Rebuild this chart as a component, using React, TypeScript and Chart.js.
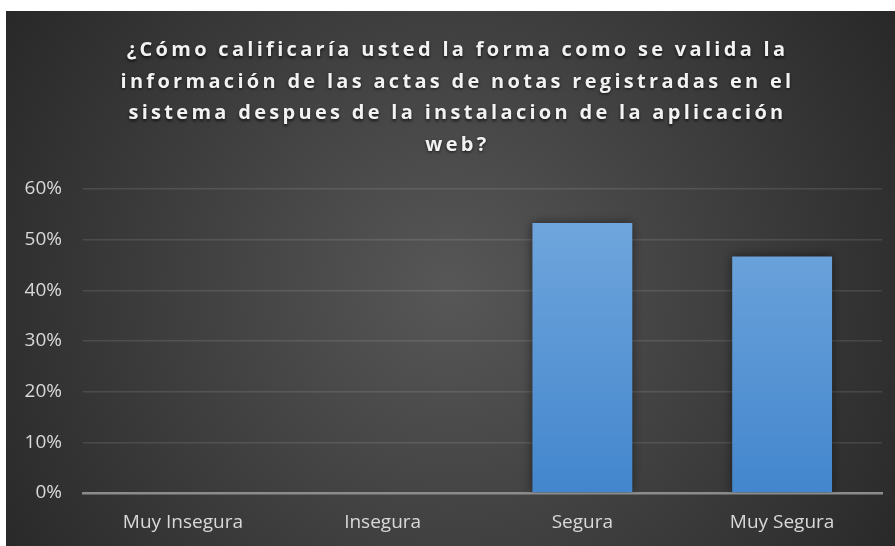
import React, { useEffect, useRef } from "react";
import { Chart, registerables } from "chart.js";

Chart.register(...registerables);

const categories = ["Muy Insegura", "Insegura", "Segura", "Muy Segura"];
const values = [0, 0, 0.533, 0.467];
const yTicks = [0, 0.1, 0.2, 0.3, 0.4, 0.5, 0.6];
const titleLines = [
  "¿Cómo calificaría usted la forma como se valida la",
  "información de las actas de notas registradas en el",
  "sistema despues de la instalacion de la aplicación",
  "web?",
];

const FONT = "'Open Sans', 'Noto Sans', sans-serif";

const backgroundPlugin = {
  id: "bgGradient",
  beforeDraw(chart: any) {
    const { ctx, width, height } = chart;
    ctx.save();
    const cx = width * 0.5;
    const cy = height * 0.52;
    const g = ctx.createRadialGradient(cx, cy, 0, cx, cy, Math.max(width, height) * 0.62);
    g.addColorStop(0, "#575757");
    g.addColorStop(1, "#262626");
    ctx.fillStyle = g;
    ctx.fillRect(0, 0, width, height);
    ctx.restore();
  },
};

const shadowPlugin = {
  id: "barShadow",
  beforeDatasetsDraw(chart: any) {
    const ctx = chart.ctx;
    ctx.save();
    ctx.shadowColor = "rgba(0,0,0,0.5)";
    ctx.shadowBlur = 10;
  },
  afterDatasetsDraw(chart: any) {
    chart.ctx.restore();
  },
};

const titlePlugin = {
  id: "spacedTitle",
  afterDraw(chart: any) {
    const { ctx, width } = chart;
    ctx.save();
    ctx.font = `bold 20px ${FONT}`;
    (ctx as any).letterSpacing = "3.3px";
    ctx.textAlign = "center";
    ctx.textBaseline = "alphabetic";
    ctx.fillStyle = "#f2f2f2";
    ctx.shadowColor = "rgba(0,0,0,0.7)";
    ctx.shadowBlur = 3;
    ctx.shadowOffsetY = 1.5;
    titleLines.forEach((line, i) => {
      ctx.fillText(line, width / 2 + 7, 45 + i * 31.5);
    });
    ctx.restore();
  },
};

export default function App() {
  const canvasRef = useRef<HTMLCanvasElement | null>(null);

  useEffect(() => {
    if (!canvasRef.current) return;
    const chart = new Chart(canvasRef.current, {
      type: "bar",
      data: {
        labels: categories,
        datasets: [
          {
            data: values,
            backgroundColor: (c: any) => {
              const area = c.chart.chartArea;
              if (!area) return "#5b9bd5";
              const g = c.chart.ctx.createLinearGradient(0, area.top, 0, area.bottom);
              g.addColorStop(0, "#74a9de");
              g.addColorStop(1, "#4386cd");
              return g;
            },
            borderWidth: 0,
            categoryPercentage: 0.5,
            barPercentage: 1,
          },
        ],
      },
      options: {
        animation: false,
        responsive: true,
        maintainAspectRatio: false,
        layout: { padding: { top: 178, right: 13, bottom: 0, left: 0 } },
        plugins: {
          legend: { display: false },
          title: { display: false },
          tooltip: { enabled: false },
        },
        scales: {
          x: {
            grid: { display: false, drawTicks: false },
            border: { display: true, color: "#8c8c8c", width: 2.5 },
            ticks: {
              color: "#d9d9d9",
              font: { family: FONT, size: 19 },
              padding: 18,
            },
            afterFit: (s: any) => {
              s.height = 53;
            },
          },
          y: {
            min: 0,
            max: 0.6,
            afterBuildTicks: (s: any) => {
              s.ticks = yTicks.map((v) => ({ value: v }));
            },
            grid: {
              drawTicks: false,
              color: (c: any) => (c.tick && c.tick.value === 0 ? "rgba(0,0,0,0)" : "rgba(255,255,255,0.11)"),
              lineWidth: 1.5,
            },
            border: { display: false },
            ticks: {
              color: "#d9d9d9",
              font: { family: FONT, size: 19 },
              padding: 21,
              callback: (v: any) => `${Math.round(Number(v) * 100)}%`,
            },
            afterFit: (s: any) => {
              s.width = 77;
            },
          },
        },
      },
      plugins: [backgroundPlugin, shadowPlugin, titlePlugin],
    });
    return () => chart.destroy();
  }, []);

  return (
    <div style={{ position: "absolute", left: 6, top: 11, width: 889, height: 535 }}>
      <canvas ref={canvasRef} />
    </div>
  );
}
